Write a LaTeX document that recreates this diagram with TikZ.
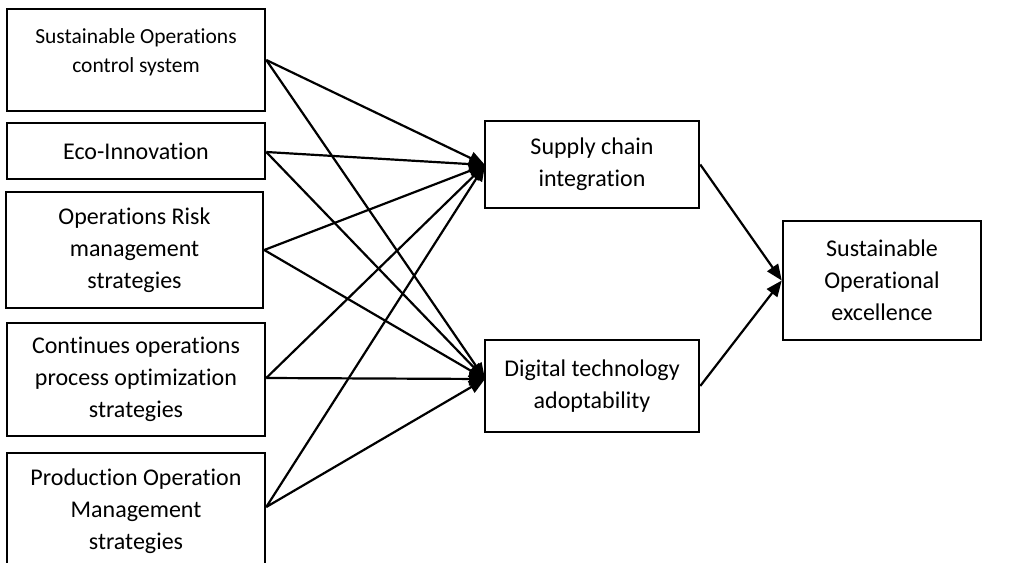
\documentclass[tikz,border=0pt]{standalone}
\usepackage{fontspec}
\setmainfont{Carlito}[Ligatures=NoCommon]
\usetikzlibrary{arrows.meta,positioning}
\tikzset{
  box/.style={draw=black, line width=2.5pt, inner sep=0pt, align=center,
    font=\fontsize{24}{32}\selectfont},
  smalltxt/.style={inner sep=0pt, align=center, font=\fontsize{21.5}{29}\selectfont},
  arr/.style={line width=2.2pt, -{Triangle[length=16pt,width=13pt]}},
}
\begin{document}
\begin{tikzpicture}[x=1pt,y=-1pt]
\useasboundingbox (0,0) rectangle (1019,562);
% left column
\node[box, minimum width=258pt, minimum height=102pt] (s1) at (136,60) {};
\node[smalltxt] (s1t) at (136,52) {Sustainable Operations\\control system};
\node[box, minimum width=258pt, minimum height=56pt] (s2) at (136,151) {Eco-Innovation};
\node[box, minimum width=257pt, minimum height=116pt] (s3) at (134.5,250) {Operations Risk\\management\\strategies};
\node[box, minimum width=258pt, minimum height=113pt] (s4) at (136,379.5) {Continues operations\\process optimization\\strategies};
\node[box, minimum width=258pt, minimum height=116pt] (s5) at (136,511) {Production Operation\\Management\\strategies};
% middle column
\node[box, minimum width=214pt, minimum height=87pt] (sc) at (592,164.5) {Supply chain\\integration};
\node[box, minimum width=214pt, minimum height=92pt] (dt) at (592,386) {Digital technology\\adoptability};
% right
\node[box, minimum width=198pt, minimum height=119pt] (soe) at (882,280.5) {Sustainable\\Operational\\excellence};
% convergence points
\coordinate (scin) at (485,165);
\coordinate (dtin) at (485,379);
% arrows
\foreach \s/\d in {s1/0,s2/-1,s3/0,s4/1.5,s5/4}{
  \draw[arr] ([yshift=\d pt]\s.east) -- (scin);
  \draw[arr] ([yshift=\d pt]\s.east) -- (dtin);
}
\draw[arr] (sc.east) -- (soe.west);
\draw[arr] (dt.east) -- (soe.west);
\end{tikzpicture}
\end{document}
